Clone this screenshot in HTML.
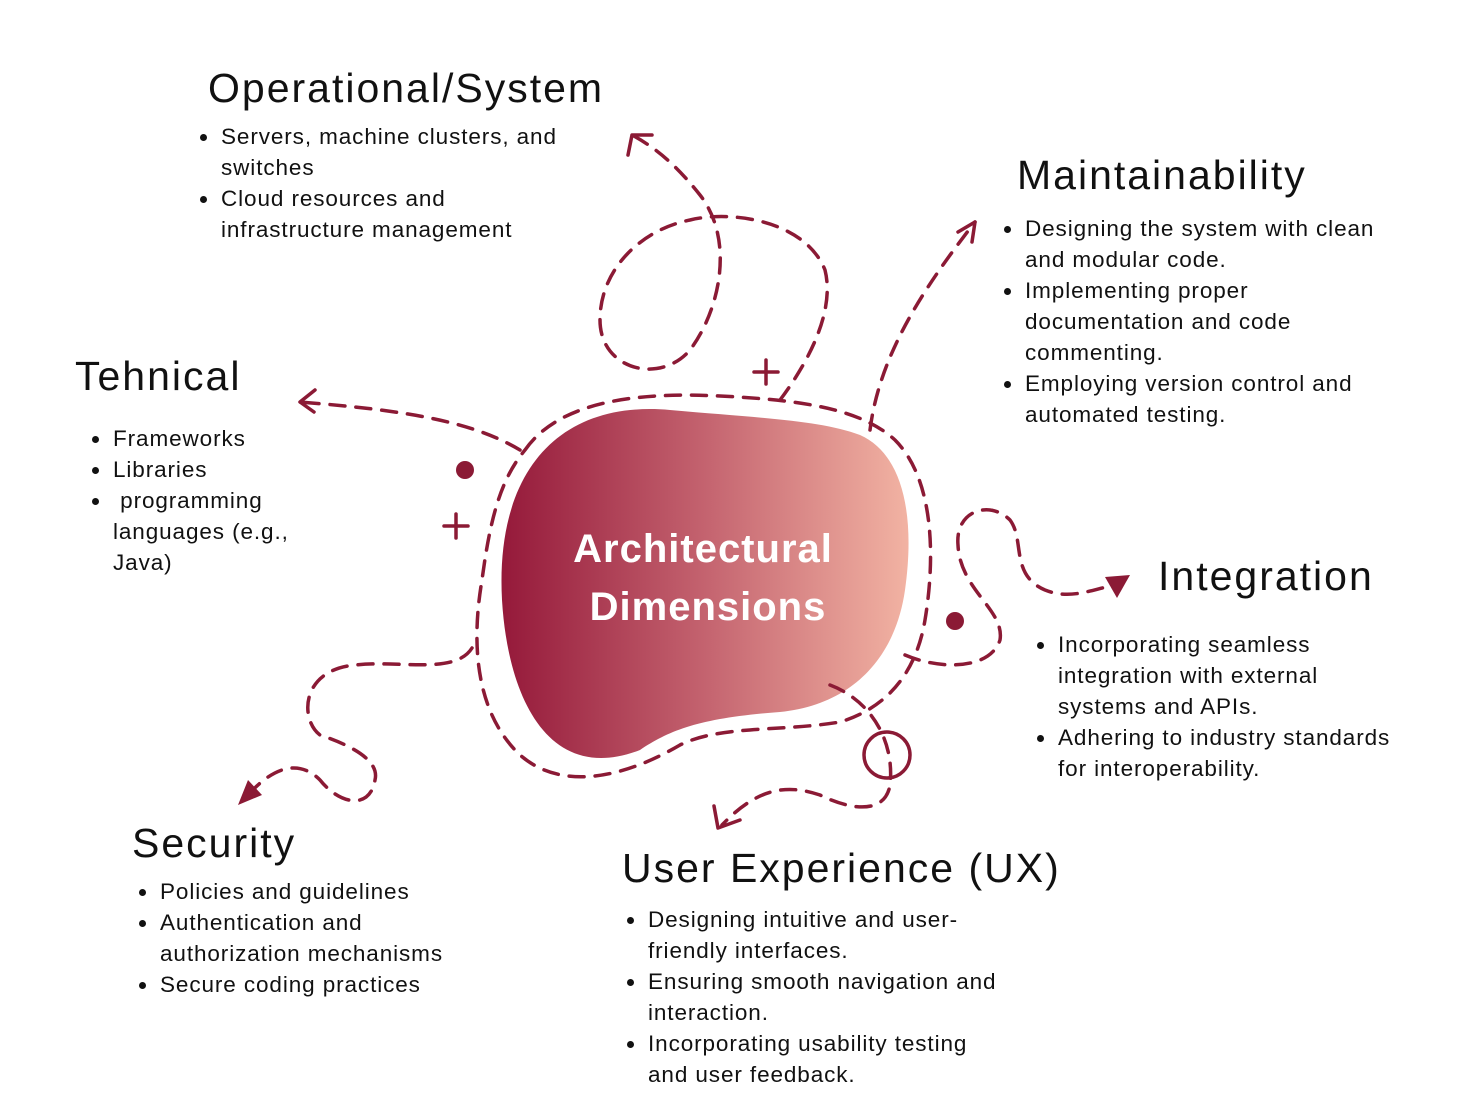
<!DOCTYPE html>
<html><head><meta charset="utf-8"><style>
body{margin:0;width:1475px;height:1119px;background:#fff;position:relative;overflow:hidden;font-family:"Liberation Sans",sans-serif;color:#111}
.h{position:absolute;font-size:41px;line-height:48px;white-space:nowrap;letter-spacing:2px}
.b{position:absolute;font-size:22.5px;line-height:31px;white-space:nowrap;letter-spacing:0.9px}
.b div{position:relative}
.b div.bl::before{content:"";position:absolute;left:-21px;top:13px;width:7px;height:7px;border-radius:50%;background:#111}
svg{position:absolute;left:0;top:0}
</style></head><body>
<svg width="1475" height="1119" viewBox="0 0 1475 1119">
<defs><linearGradient id="g" x1="0" x2="1" y1="0" y2="0"><stop offset="0" stop-color="#95193a"/><stop offset="0.5" stop-color="#c4636f"/><stop offset="1" stop-color="#f2b3a3"/></linearGradient></defs>
<path d="M502,600 C495,470 560,400 670,410 C760,418 820,420 860,435 C905,455 915,520 905,590 C895,660 850,705 780,712 C700,718 670,730 640,750 C550,785 508,700 502,600 Z" fill="url(#g)"/>
<g fill="none" stroke="#8b1a35" stroke-width="3.5" stroke-dasharray="15 11" stroke-linecap="round">
<path d="M525,450 C560,400 640,392 720,396 C800,400 860,408 895,440 C935,480 935,560 925,620 C915,680 880,710 840,722 C780,732 720,725 680,745 C620,780 560,790 520,755 C478,715 470,650 482,580 C490,520 500,480 525,450"/>
<path d="M520,450 C470,420 400,410 300,402"/>
<path d="M870,430 C880,350 930,280 975,222"/>
<path d="M780,400 C810,360 835,310 825,270 C805,220 730,210 690,220 C640,230 600,270 600,320 C600,370 660,385 690,350 C720,310 735,240 700,195 C680,170 660,150 632,135"/>
<path d="M905,655 C940,670 990,670 1000,640 C1005,610 960,590 958,545 C955,510 990,500 1010,520 C1025,540 1010,575 1045,590 C1070,600 1090,590 1115,585"/>
<path d="M472,648 C455,675 400,660 355,665 C300,670 300,720 320,735 C350,745 380,760 375,780 C370,810 340,805 320,780 C300,760 275,765 248,795"/>
<path d="M830,685 C870,700 895,740 890,785 C885,815 850,810 820,795 C790,785 760,785 722,825"/>
</g>
<g fill="none" stroke="#8b1a35" stroke-width="3.5" stroke-linecap="round">
<path d="M300,402 L315,390 M300,402 L314,412"/>
<path d="M632,135 L628,155 M632,135 L652,135"/>
<path d="M975,222 L958,232 M975,222 L972,242"/>
<path d="M718,828 L714,806 M718,828 L740,820"/>
<path d="M754,372 h24 M766,360 v24 M444,526 h24 M456,514 v24"/>
<circle cx="887" cy="755" r="23"/>
</g>
<g fill="#8b1a35"><circle cx="465" cy="470" r="9"/><circle cx="955" cy="621" r="9"/>
<path d="M1105,577 L1130,575 L1117,598 Z"/><path d="M238,805 L262,795 L248,780 Z"/></g>
<g font-family="Liberation Sans,sans-serif" font-weight="bold" font-size="40" fill="#fff" text-anchor="middle" letter-spacing="1">
<text x="703" y="562">Architectural</text><text x="708" y="620">Dimensions</text></g>
</svg>
<div class="h" style="left:208px;top:64px">Operational/System</div>
<div class="b" style="left:221px;top:121px"><div class="bl">Servers, machine clusters, and</div><div>switches</div><div class="bl">Cloud resources and</div><div>infrastructure management</div></div>
<div class="h" style="left:1017px;top:151px">Maintainability</div>
<div class="b" style="left:1025px;top:213px"><div class="bl">Designing the system with clean</div><div>and modular code.</div><div class="bl">Implementing proper</div><div>documentation and code</div><div>commenting.</div><div class="bl">Employing version control and</div><div>automated testing.</div></div>
<div class="h" style="left:75px;top:352px">Tehnical</div>
<div class="b" style="left:113px;top:423px"><div class="bl">Frameworks</div><div class="bl">Libraries</div><div class="bl">&nbsp;programming</div><div>languages (e.g.,</div><div>Java)</div></div>
<div class="h" style="left:1158px;top:552px">Integration</div>
<div class="b" style="left:1058px;top:629px"><div class="bl">Incorporating seamless</div><div>integration with external</div><div>systems and APIs.</div><div class="bl">Adhering to industry standards</div><div>for interoperability.</div></div>
<div class="h" style="left:132px;top:819px">Security</div>
<div class="b" style="left:160px;top:876px"><div class="bl">Policies and guidelines</div><div class="bl">Authentication and</div><div>authorization mechanisms</div><div class="bl">Secure coding practices</div></div>
<div class="h" style="left:622px;top:844px">User Experience (UX)</div>
<div class="b" style="left:648px;top:904px"><div class="bl">Designing intuitive and user-</div><div>friendly interfaces.</div><div class="bl">Ensuring smooth navigation and</div><div>interaction.</div><div class="bl">Incorporating usability testing</div><div>and user feedback.</div></div>
</body></html>
